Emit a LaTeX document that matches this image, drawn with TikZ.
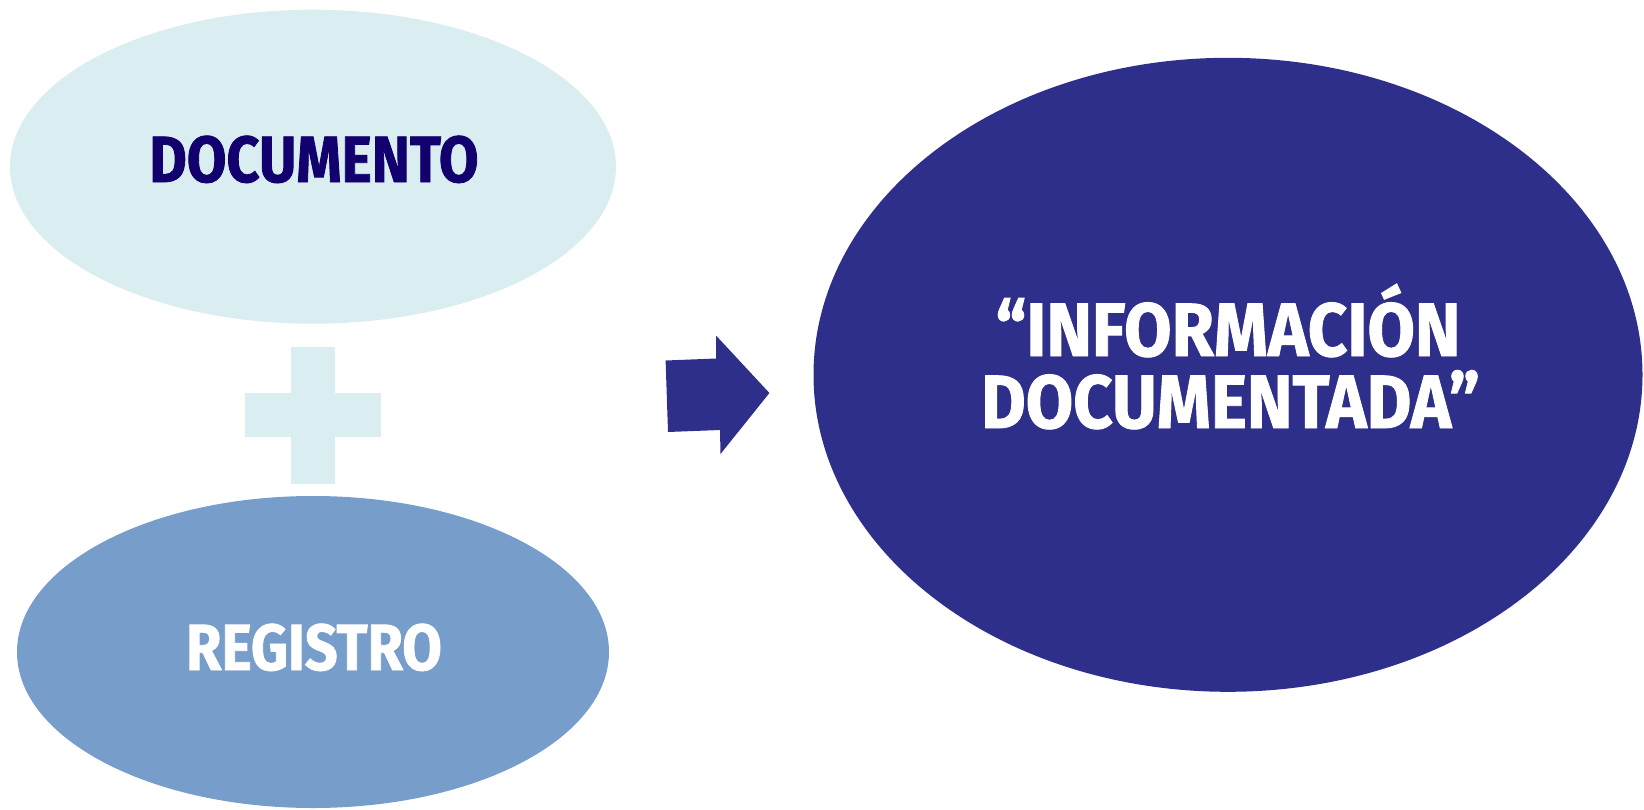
\documentclass[tikz,border=0pt]{standalone}
\usepackage{fontspec}
\newfontfamily\fa{Fira Sans}[FakeStretch=0.88, BoldFeatures={FakeBold=1.2}]
\newfontfamily\fb{Fira Sans}[FakeStretch=0.91, BoldFeatures={FakeBold=1.2}]
\usetikzlibrary{shapes.geometric}
\definecolor{lightc}{RGB}{218,237,240}
\definecolor{navytxt}{RGB}{18,0,110}
\definecolor{midblue}{RGB}{119,157,203}
\definecolor{deepblue}{RGB}{46,47,138}
\tikzset{
  oval/.style={ellipse, inner sep=0pt, draw=none},
  lbl/.style={anchor=base, inner sep=0pt},
}
\begin{document}
\begin{tikzpicture}[x=1pt,y=-1pt]
\useasboundingbox (0,0) rectangle (1644,809);
\node[oval, fill=lightc, minimum width=606pt, minimum height=314pt] (doc) at (313,166.7) {};
\node[oval, fill=midblue, minimum width=592pt, minimum height=312pt] (reg) at (313,652) {};
\node[oval, fill=deepblue, minimum width=829pt, minimum height=634pt] (info) at (1228,374.8) {};
% plus sign
\fill[lightc] (291,347) rectangle (335,484);
\fill[lightc] (245,393) rectangle (381,437);
% arrow
\fill[deepblue] (665.6,360.5) -- (716,358.5) -- (716,335.5) -- (769.4,393) -- (720.5,454) -- (720,430) -- (668,432) -- cycle;
\node[lbl, text=navytxt, font=\fa\bfseries\fontsize{65.3}{70}\selectfont] (t1) at (314,182) {DOCUMENTO};
\node[lbl, text=white, font=\fa\bfseries\fontsize{65.3}{70}\selectfont] (t2) at (314,670) {REGISTRO};
\node[lbl, text=white, font=\fb\bfseries\fontsize{75.5}{74}\selectfont] (t3) at (1228,356) {“INFORMACIÓN};
\node[lbl, text=white, font=\fb\bfseries\fontsize{75.5}{74}\selectfont] (t4) at (1230.5,428) {DOCUMENTADA”};
\end{tikzpicture}
\end{document}
